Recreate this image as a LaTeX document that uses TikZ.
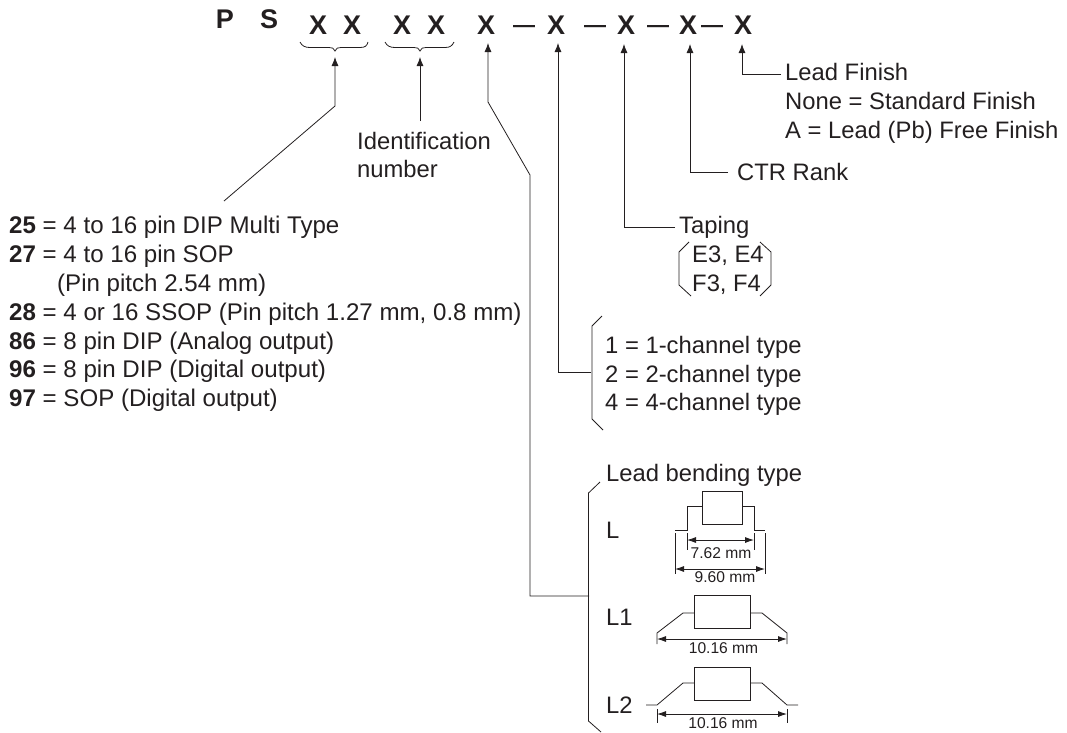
\documentclass[tikz,border=0pt]{standalone}
\usepackage{fontspec}
\setmainfont{Liberation Sans}
\usetikzlibrary{arrows.meta}
\definecolor{ink}{HTML}{231F20}
\tikzset{
 lab/.style={anchor=base west,inner sep=0pt,text=ink,font=\fontsize{23.8}{26}\selectfont},
 leftlab/.style={anchor=base west,inner sep=0pt,text=ink,font=\fontsize{24.1}{26}\selectfont},
 big/.style={anchor=base,inner sep=0pt,text=ink,font=\bfseries\fontsize{27}{30}\selectfont},
 dsh/.style={anchor=base,inner sep=0pt,text=ink,font=\bfseries\fontsize{22}{24}\selectfont},
 dim/.style={anchor=base,inner sep=0pt,text=ink,font=\fontsize{15.6}{18}\selectfont},
 ln/.style={draw=ink,line width=0.8pt},
 arr/.style={ln,-{Latex[length=9pt,width=7pt]}},
 dimar/.style={ln,{Latex[length=9pt,width=6pt]}-{Latex[length=9pt,width=6pt]}},
}
\begin{document}
\begin{tikzpicture}[x=1pt,y=-1pt]
\useasboundingbox (0,0) rectangle (1067,732);
% code letters
\node[big] (p) at (225,28) {P};
\node[big] (s) at (269,28) {S};
\node[big] (x1) at (318,34) {X};
\node[big] (x2) at (352,34) {X};
\node[big] (x3) at (402,34) {X};
\node[big] (x4) at (436,34) {X};
\node[big] (x5) at (486,34) {X};
\node[big] (x6) at (556,34) {X};
\node[big] (x7) at (626,34) {X};
\node[big] (x8) at (688,34) {X};
\node[big] (x9) at (743,34) {X};
\node[dsh] (d1) at (524,32) {—};
\node[dsh] (d2) at (595,32) {—};
\node[dsh] (d3) at (658,32) {—};
\node[dsh] (d4) at (712,32) {—};
% braces
\draw[ln] (300,42) .. controls (302,46) and (305,47.5) .. (310,47.5) -- (329,47.5) .. controls (332,47.5) and (334,48) .. (335,51) .. controls (336,48) and (338,47.5) .. (341,47.5) -- (360,47.5) .. controls (365,47.5) and (367,46) .. (368,42);
\draw[ln] (385,42) .. controls (387,46) and (390,47.5) .. (395,47.5) -- (414,47.5) .. controls (417,47.5) and (419,48) .. (420,51) .. controls (421,48) and (423,47.5) .. (426,47.5) -- (445,47.5) .. controls (450,47.5) and (452,46) .. (454,42);
% connector coordinates
\coordinate (a1) at (335,57);
\coordinate (a2) at (420,57);
\coordinate (a5) at (488,43);
\coordinate (a6) at (558,43);
\coordinate (a7) at (624,44);
\coordinate (a8) at (690,44);
\coordinate (a9) at (742,44);
% labels
\node[lab] (lf) at (785,80) {Lead Finish};
\node[lab] (lf2) at (785,109) {None = Standard Finish};
\node[lab] (lf3) at (785,138) {A = Lead (Pb) Free Finish};
\node[lab] (ctr) at (737,180) {CTR Rank};
\node[lab] (tap) at (679,233) {Taping};
\node[lab] (e3) at (692,262) {E3, E4};
\node[lab] (f3) at (692,291) {F3, F4};
\node[lab] (ch1) at (605,353) {1 = 1-channel type};
\node[lab] (ch2) at (605,382) {2 = 2-channel type};
\node[lab] (ch4) at (605,410) {4 = 4-channel type};
\node[lab] (lbt) at (606,481) {Lead bending type};
\node[lab] (ll) at (606,538) {L};
\node[lab] (ll1) at (606,625) {L1};
\node[lab] (ll2) at (606,713) {L2};
\node[lab] (id1) at (357,149) {Identification};
\node[lab] (id2) at (357,177) {number};
\node[leftlab] (t1) at (9,233) {\textbf{25} = 4 to 16 pin DIP Multi Type};
\node[leftlab] (t2) at (9,262) {\textbf{27} = 4 to 16 pin SOP};
\node[leftlab] (t3) at (57,291) {(Pin pitch 2.54 mm)};
\node[leftlab] (t4) at (9,320) {\textbf{28} = 4 or 16 SSOP (Pin pitch 1.27 mm, 0.8 mm)};
\node[leftlab] (t5) at (9,349) {\textbf{86} = 8 pin DIP (Analog output)};
\node[leftlab] (t6) at (9,377) {\textbf{96} = 8 pin DIP (Digital output)};
\node[leftlab] (t7) at (9,406) {\textbf{97} = SOP (Digital output)};
% arrows
\draw[arr] (224,201) -- (335,106) -- (a1);
\draw[arr] (420,121) -- (a2);
\draw[arr] (589,596) -- (530,596) -- (530,175) -- (488,102) -- (a5);
\draw[arr] (591,372) -- (558,372) -- (a6);
\draw[arr] (675,227) -- (624,227) -- (a7);
\draw[arr] (728,172) -- (690,172) -- (a8);
\draw[arr] (781,74) -- (742,74) -- (a9);
% brackets
\draw[ln] (602,316) -- (592,326) -- (592,419) -- (603,430);
\draw[ln] (600,482) -- (588.5,493) -- (588.5,721) -- (601,732);
\draw[ln] (689,242) -- (679,252) -- (679,285) -- (691,296);
\draw[ln] (760,242) -- (771,252) -- (771,285) -- (760,296);
% package L
\draw[ln] (702,491) rectangle (742,524);
\draw[ln] (675,530) -- (687,530) -- (687,506) -- (702,506);
\draw[ln] (742,506) -- (754,506) -- (754,530) -- (765,530);
\draw[ln] (687,533) -- (687,550);
\draw[ln] (754,533) -- (754,550);
\draw[ln] (675,533) -- (675,574);
\draw[ln] (765,533) -- (765,574);
\draw[dimar] (687,540) -- (754,540);
\draw[dimar] (675,569) -- (765,569);
\node[dim] (d762) at (721,558) {7.62 mm};
\node[dim] (d960) at (725,582) {9.60 mm};
% package L1
\draw[ln] (694,595) rectangle (750,628);
\draw[ln] (694,613) -- (683,613) -- (657,633) -- (657,644);
\draw[ln] (750,613) -- (762,613) -- (787,633) -- (787,644);
\draw[dimar] (657,639) -- (787,639);
\node[dim] (d1016a) at (723.5,653) {10.16 mm};
% package L2
\draw[ln] (694,667) rectangle (750,700);
\draw[ln] (694,683) -- (683,683) -- (657,705) -- (646,705);
\draw[ln] (750,683) -- (762,683) -- (787,705) -- (798,705);
\draw[ln] (657,709) -- (657,723);
\draw[ln] (787,709) -- (787,723);
\draw[dimar] (657,714) -- (787,714);
\node[dim] (d1016b) at (723,728) {10.16 mm};
\end{tikzpicture}
\end{document}
